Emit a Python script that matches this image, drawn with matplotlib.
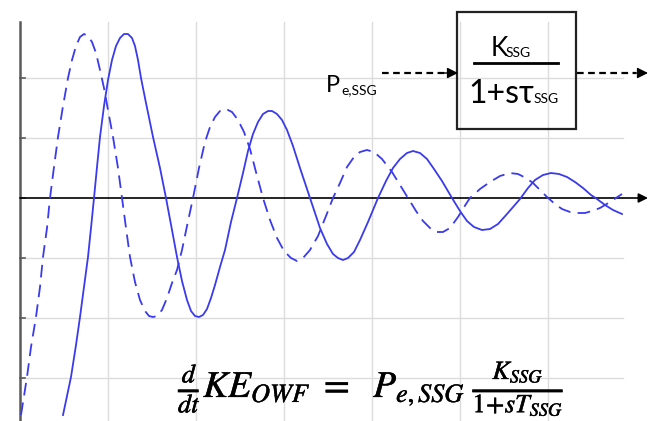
import matplotlib
matplotlib.use("Agg")
import matplotlib.pyplot as plt
import matplotlib.patheffects as pe
from matplotlib.patches import Rectangle

# curves (time and response in arbitrary units;
# one vertical grid step = 88, one horizontal grid step = 60)
solid_t = [43, 47, 51, 56, 60, 64, 68, 71, 74, 77, 80, 84, 88, 92, 96, 100, 104, 108, 112, 115,
           118, 121, 126, 133, 140, 146, 152, 157, 162, 167, 171, 175, 179, 183, 187, 191, 195,
           200, 205, 211, 217, 223, 228, 233, 238, 243, 248, 252, 257, 262, 267, 273, 280, 290,
           300, 307, 313, 318, 323, 328, 334, 340, 348, 358, 366, 373, 380, 387, 393, 400, 407,
           414, 422, 432, 440, 447, 454, 462, 470, 478, 487, 500, 508, 515, 523, 531, 539, 547,
           555, 563, 571, 577, 585, 593, 602]
solid_v = [-217, -198, -179, -147, -119, -89, -59, -30, 0, 31, 61, 92, 118, 138, 152, 160, 164,
           164, 160, 152, 138, 120, 95, 61, 30, 0, -32, -59, -83, -102, -113, -118, -119, -117,
           -111, -100, -87, -69, -52, -24, 0, 25, 47, 64, 76, 84, 87, 87, 84, 78, 68, 52, 30, 0,
           -30, -46, -56, -60, -62, -60, -54, -42, -24, 0, 17, 30, 39, 45, 47, 45, 39, 29, 17, 0,
           -13, -23, -29, -32, -31, -26, -16, -1, 10, 18, 23, 25, 24, 21, 16, 10, 3, -1, -7, -12, -16]

dashed_t = [1, 4, 7, 11, 16, 20, 23, 27, 30, 34, 38, 43, 48, 52, 56, 60, 64, 68, 72, 76, 80, 84,
            88, 93, 98, 102, 106, 110, 115, 120, 125, 129, 133, 137, 142, 147, 152, 157, 162,
            167, 173, 179, 185, 190, 195, 200, 206, 212, 218, 224, 230, 236, 243, 250, 257, 264,
            271, 277, 283, 290, 298, 306, 313, 320, 327, 334, 340, 347, 354, 362, 372, 380, 388,
            396, 403, 410, 417, 423, 430, 438, 446, 450, 460, 470, 480, 490, 498, 506, 513, 520,
            527, 535, 542, 550, 557, 565, 572, 580, 590, 602]
dashed_v = [-217, -198, -179, -149, -119, -89, -59, -30, 0, 31, 61, 92, 120, 138, 152, 161, 164,
            162, 156, 145, 128, 110, 88, 61, 30, 0, -30, -59, -84, -102, -113, -118, -119, -118,
            -112, -100, -85, -72, -52, -28, 0, 30, 56, 71, 81, 87, 89, 86, 78, 66, 49, 26, 0, -22,
            -40, -53, -60, -63, -60, -52, -38, -18, 0, 15, 31, 41, 46, 48, 46, 39, 26, 13, 0, -13,
            -23, -30, -34, -34, -30, -19, -6, 0, 9, 16, 22, 25, 24, 20, 15, 8, 1, -6, -11, -14,
            -15, -15, -13, -10, -4, 4]

grid_t = [88, 176, 264, 352, 440, 528]
grid_v = [-180, -120, -60, 60, 120]
tick_v = [-180, -120, -60, 0, 60, 120]

equation = (r"$\frac{d}{dt}KE_{OWF}\ =\ \ P_{e,SSG}\;"
            r"\frac{K_{SSG}}{1\!+\!sT_{SSG}}$")

blue = "#3a3aee"


def px(x, y):
    # picture pixel -> data units
    return x - 20, 198 - y


fig = plt.figure(figsize=(6.49, 4.21), dpi=100)
ax = fig.add_axes([0, 0, 1, 1])
ax.set_xlim(-20, 629)
ax.set_ylim(-223, 198)
ax.axis("off")

top = 176
bottom = -223

# grid
for gx in grid_t:
    ax.plot([gx, gx], [bottom, top], color="#dcdcdc", lw=1, zorder=1)
for gy in grid_v:
    ax.plot([0, 603], [gy, gy], color="#dcdcdc", lw=1, zorder=1)

# left axis and ticks
ax.plot([0, 0], [bottom, top], color="#5a5a5a", lw=1.8, zorder=3)
for ty in tick_v:
    ax.plot([0, 5], [ty, ty], color="#5a5a5a", lw=1.2, zorder=3)

# zero axis with arrow
ax.annotate("", xy=(628, 0), xytext=(0, 0),
            arrowprops=dict(arrowstyle="-|>", color="black", lw=1.2,
                            mutation_scale=14, shrinkA=0, shrinkB=0), zorder=3)

# curves
ax.plot(solid_t, solid_v, color=blue, lw=1.3, zorder=4)
ax.plot(dashed_t, dashed_v, color=blue, lw=1.3, dashes=(7, 4), zorder=4)

# block diagram
x0, y0 = px(457, 129)
x1, y1 = px(576, 12)
ax.add_patch(Rectangle((x0, y0), x1 - x0, y1 - y0, fill=False,
                       edgecolor="#222222", lw=1.6, zorder=5))
ax.plot([px(474, 0)[0], px(558, 0)[0]], [px(0, 63)[1]] * 2, color="black", lw=2, zorder=5)

sans = ["Lato", "DejaVu Sans"]
ax.text(*px(491, 56), "K", fontsize=19, family=sans, ha="left", va="baseline")
ax.text(*px(506, 57), "SSG", fontsize=10, family=sans, ha="left", va="baseline")
ax.text(*px(468, 103), "1+sτ", fontsize=23, family=sans, ha="left", va="baseline")
ax.text(*px(534, 103), "SSG", fontsize=10, family=sans, ha="left", va="baseline")
ax.text(*px(326, 92), "P", fontsize=17, family=sans, ha="left", va="baseline")
ax.text(*px(341, 94), "e,SSG", fontsize=10, family=sans, ha="left", va="baseline")

# dashed arrows in/out of the block
for a, b in [(382, 446), (577, 636)]:
    ax.plot([px(a, 0)[0], px(b, 0)[0]], [px(0, 73)[1]] * 2, color="black", lw=1.6,
            dashes=(3, 2), zorder=5)
for a, b in [(444, 458), (634, 648)]:
    ax.annotate("", xy=px(b, 73), xytext=px(a, 73),
                arrowprops=dict(arrowstyle="-|>", color="black", lw=1,
                                mutation_scale=16, shrinkA=0, shrinkB=0), zorder=5)

# equation
fig.text(178 / 649, 1 - 397 / 421, equation, fontsize=27, math_fontfamily="stix",
         ha="left", va="baseline",
         path_effects=[pe.withStroke(linewidth=0.35, foreground="black")])

fig.savefig("out.png", dpi=100)
